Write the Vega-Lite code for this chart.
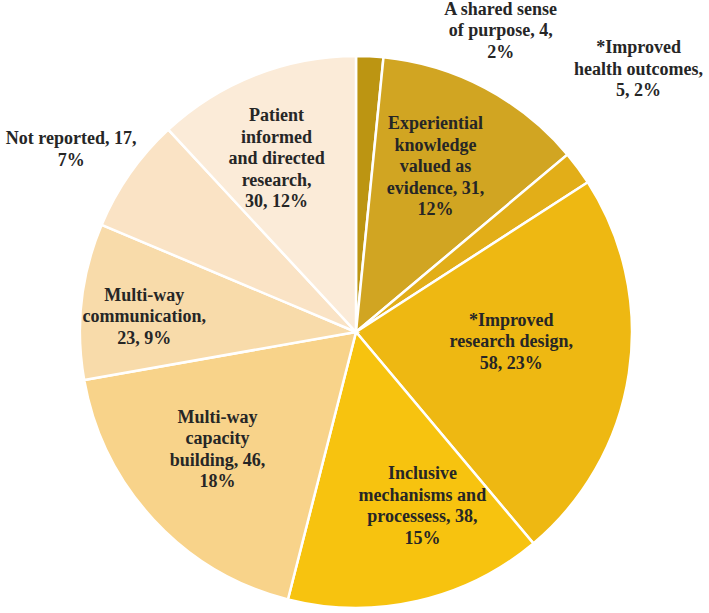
{
  "$schema": "https://vega.github.io/schema/vega-lite/v6.json",
  "width": 700,
  "height": 552,
  "padding": {"left": 6, "top": 56, "right": 3, "bottom": 5},
  "autosize": {"type": "none"},
  "background": "white",
  "config": {
    "view": {"stroke": null},
    "text": {"font": "Liberation Serif", "fontWeight": "bold", "fontSize": 18, "lineHeight": 21.5, "align": "center", "baseline": "middle", "fill": "#262626"}
  },
  "data": {
    "values": [
      {"rank": 1, "cat": "A shared sense of purpose", "value": 4, "label": ["A shared sense", "of purpose, 4,", "2%"]},
      {"rank": 2, "cat": "Experiential knowledge valued as evidence", "value": 31, "label": ["Experiential", "knowledge", "valued as", "evidence, 31,", "12%"]},
      {"rank": 3, "cat": "*Improved health outcomes", "value": 5, "label": ["*Improved", "health outcomes,", "5, 2%"]},
      {"rank": 4, "cat": "*Improved research design", "value": 58, "label": ["*Improved", "research design,", "58, 23%"]},
      {"rank": 5, "cat": "Inclusive mechanisms and processess", "value": 38, "label": ["Inclusive", "mechanisms and", "processess, 38,", "15%"]},
      {"rank": 6, "cat": "Multi-way capacity building", "value": 46, "label": ["Multi-way", "capacity", "building, 46,", "18%"]},
      {"rank": 7, "cat": "Multi-way communication", "value": 23, "label": ["Multi-way", "communication,", "23, 9%"]},
      {"rank": 8, "cat": "Not reported", "value": 17, "label": ["Not reported, 17,", "7%"]},
      {"rank": 9, "cat": "Patient informed and directed research", "value": 30, "label": ["Patient", "informed", "and directed", "research,", "30, 12%"]}
    ]
  },
  "transform": [
    {"stack": "value", "groupby": [], "sort": [{"field": "rank", "order": "ascending"}], "as": ["v0", "v1"]},
    {"calculate": "(datum.v0 + datum.v1) / 2", "as": "mid"}
  ],
  "layer": [
    {
      "mark": {"type": "arc", "radius": 276, "stroke": "white", "strokeWidth": 2.5},
      "encoding": {
        "theta": {"field": "v0", "type": "quantitative", "stack": null, "scale": {"domain": [0, 252], "nice": false}},
        "theta2": {"field": "v1"},
        "color": {
          "field": "cat", "type": "nominal", "legend": null,
          "scale": {
            "domain": ["A shared sense of purpose", "Experiential knowledge valued as evidence", "*Improved health outcomes", "*Improved research design", "Inclusive mechanisms and processess", "Multi-way capacity building", "Multi-way communication", "Not reported", "Patient informed and directed research"],
            "range": ["#BC9512", "#D1A522", "#E2AE18", "#EEB812", "#F7C30F", "#F8D38A", "#F8DBAA", "#FAE3C5", "#FBEBD8"]
          }
        }
      }
    },
    {"transform": [{"filter": "datum.rank == 1"}], "mark": {"type": "text", "radius": 334, "dx": 128, "dy": 11.5}, "encoding": {"theta": {"field": "mid", "type": "quantitative", "stack": null}, "text": {"field": "label"}}},
    {"transform": [{"filter": "datum.rank == 2"}], "mark": {"type": "text", "radius": 183, "dx": -6, "dy": -46}, "encoding": {"theta": {"field": "mid", "type": "quantitative", "stack": null}, "text": {"field": "label"}}},
    {"transform": [{"filter": "datum.rank == 3"}], "mark": {"type": "text", "radius": 386, "dx": -28, "dy": -54.5}, "encoding": {"theta": {"field": "mid", "type": "quantitative", "stack": null}, "text": {"field": "label"}}},
    {"transform": [{"filter": "datum.rank == 4"}], "mark": {"type": "text", "radius": 155, "dx": 2, "dy": -34.5}, "encoding": {"theta": {"field": "mid", "type": "quantitative", "stack": null}, "text": {"field": "label"}}},
    {"transform": [{"filter": "datum.rank == 5"}], "mark": {"type": "text", "radius": 186, "dx": 25, "dy": -39}, "encoding": {"theta": {"field": "mid", "type": "quantitative", "stack": null}, "text": {"field": "label"}}},
    {"transform": [{"filter": "datum.rank == 6"}], "mark": {"type": "text", "radius": 182, "dx": -5, "dy": -38}, "encoding": {"theta": {"field": "mid", "type": "quantitative", "stack": null}, "text": {"field": "label"}}},
    {"transform": [{"filter": "datum.rank == 7"}], "mark": {"type": "text", "radius": 213, "dx": 0, "dy": -12.5}, "encoding": {"theta": {"field": "mid", "type": "quantitative", "stack": null}, "text": {"field": "label"}}},
    {"transform": [{"filter": "datum.rank == 8"}], "mark": {"type": "text", "radius": 338, "dx": -8, "dy": 1}, "encoding": {"theta": {"field": "mid", "type": "quantitative", "stack": null}, "text": {"field": "label"}}},
    {"transform": [{"filter": "datum.rank == 9"}], "mark": {"type": "text", "radius": 190, "dx": -10, "dy": -39}, "encoding": {"theta": {"field": "mid", "type": "quantitative", "stack": null}, "text": {"field": "label"}}}
  ]
}
